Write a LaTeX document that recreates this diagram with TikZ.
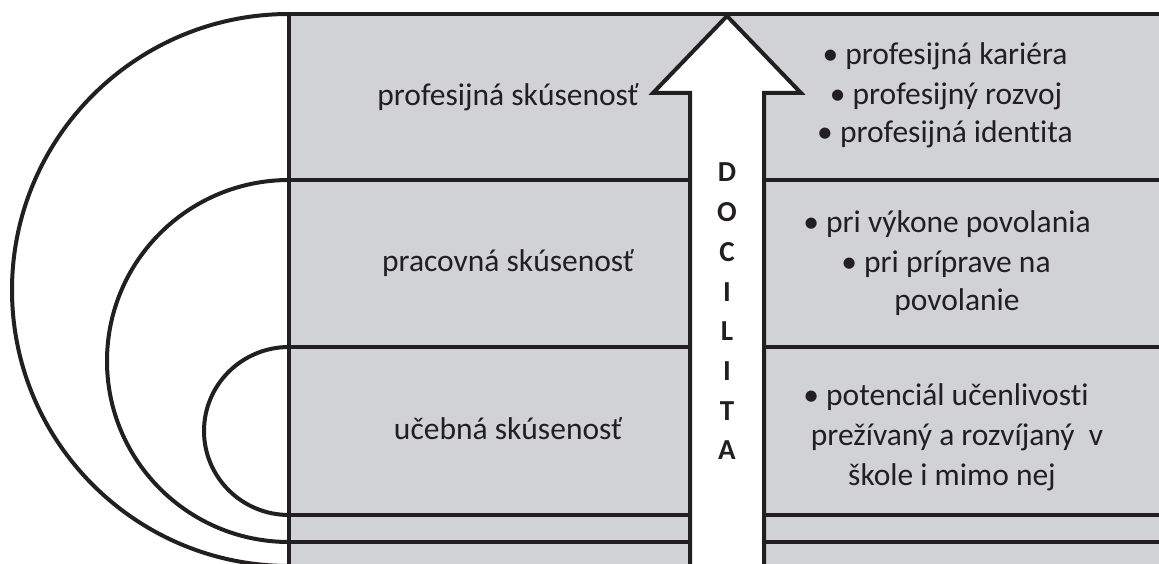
\documentclass[tikz,border=0pt]{standalone}
\usepackage{fontspec}
\setmainfont{Carlito}[RawFeature={-liga;-clig;-dlig;-calt}]
\definecolor{panel}{RGB}{209,210,212}
\definecolor{ink}{RGB}{35,31,32}
\tikzset{
  rule/.style={draw=ink, line width=4pt},
  label/.style={anchor=base, text=ink, inner sep=0pt, font=\fontsize{31.5}{38}\selectfont},
  letter/.style={anchor=base, text=ink, inner sep=0pt, font=\fontsize{29}{34}\selectfont\bfseries},
}
\begin{document}
\begin{tikzpicture}[x=1pt,y=1pt]
\useasboundingbox (0,0) rectangle (1159,563);
\begin{scope}
  \clip (0,0) rectangle (1159,563);
  % grey panel
  \fill[panel] (289,549) rectangle (1170,-10);
  % band dividers
  \draw[rule] (289,549) -- (1170,549);
  \draw[rule] (289,383) -- (1170,383);
  \draw[rule] (289,216) -- (1170,216);
  \draw[rule] (289,48) -- (1170,48);
  \draw[rule] (289,21) -- (1170,21);
  % left edge of the panel
  \draw[rule] (289,549) -- (289,-10);
  % nested half-ellipses
  \draw[rule] (289,549) arc[start angle=90, end angle=270, x radius=277, y radius=276];
  \draw[rule] (289,383) arc[start angle=90, end angle=270, x radius=182, y radius=181];
  \draw[rule] (289,216) arc[start angle=90, end angle=270, x radius=85, y radius=84];
  % upward arrow
  \draw[rule, fill=white, line join=miter]
    (690,-10) -- (690,470) -- (653,470) -- (727,547) -- (801,470) -- (764,470) -- (764,-10);
\end{scope}

% band titles
\node[label] (t1) at (508,457) {profesijná skúsenosť};
\node[label] (t2) at (508,291) {pracovná skúsenosť};
\node[label] (t3) at (508,124) {učebná skúsenosť};

% bullet lists
\node[label] (a1) at (945,498) {• profesijná kariéra};
\node[label] (a2) at (946,458) {• profesijný rozvoj};
\node[label] (a3) at (945,420) {• profesijná identita};

\node[label] (b1) at (947,330) {• pri výkone povolania};
\node[label] (b2) at (946,290) {• pri príprave na};
\node[label] (b3) at (957,253) {povolanie};

\node[label] (c1) at (946,158) {• potenciál učenlivosti};
\node[label] (c2) at (957,118) {prežívaný a rozvíjaný\ \ v};
\node[label] (c3) at (952,78) {škole i mimo nej};

% vertical word in the arrow shaft
\foreach \ch [count=\i from 0] in {D,O,C,I,L,I,T,A}
  \node[letter] (d\i) at (727,381-39.7*\i) {\ch};
\end{tikzpicture}
\end{document}
